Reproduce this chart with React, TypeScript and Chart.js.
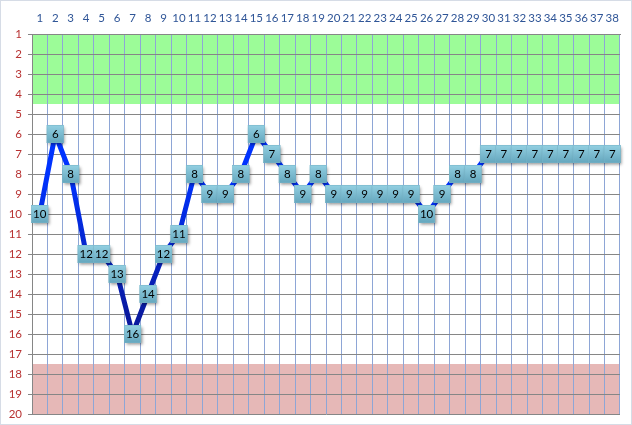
import React, { useEffect, useRef } from 'react';
import { Chart, registerables } from 'chart.js';

Chart.register(...registerables);

const categories = ['1','2','3','4','5','6','7','8','9','10','11','12','13','14','15','16','17','18','19','20','21','22','23','24','25','26','27','28','29','30','31','32','33','34','35','36','37','38'];
const values = [10, 6, 8, 12, 12, 13, 16, 14, 12, 11, 8, 9, 9, 8, 6, 7, 8, 9, 8, 9, 9, 9, 9, 9, 9, 10, 9, 8, 8, 7, 7, 7, 7, 7, 7, 7, 7, 7];
const yMin = 1;
const yMax = 20;
const goodBand = [1, 4.5];
const badBand = [17.5, 20];

const FONT = 'Lato, "Open Sans", sans-serif';

const bandsPlugin = {
  id: 'bands',
  beforeDraw(chart: any) {
    const { ctx, chartArea, scales } = chart;
    ctx.save();
    ctx.fillStyle = '#ffffff';
    ctx.fillRect(0, 0, chart.width, chart.height);
    ctx.strokeStyle = '#d6dce6';
    ctx.lineWidth = 1;
    ctx.strokeRect(0.5, 0.5, chart.width - 1, chart.height - 1);
    const y = scales.y;
    const drawBand = (b: number[], color: string) => {
      const y1 = y.getPixelForValue(b[0]);
      const y2 = y.getPixelForValue(b[1]);
      ctx.fillStyle = color;
      ctx.fillRect(chartArea.left, Math.min(y1, y2), chartArea.right - chartArea.left, Math.abs(y2 - y1));
    };
    drawBand(goodBand, '#9cfc98');
    drawBand(badBand, '#e6b8b7');
    ctx.restore();
  },
};

const labelsPlugin = {
  id: 'boxLabels',
  afterDatasetsDraw(chart: any) {
    const { ctx } = chart;
    const meta = chart.getDatasetMeta(0);
    const data = chart.data.datasets[0].data;
    ctx.save();
    meta.data.forEach((pt: any, i: number) => {
      const x = pt.x;
      const y = pt.y;
      const w = 17;
      const h = 18;
      const l = x - w / 2;
      const t = y - h / 2;
      ctx.save();
      ctx.shadowColor = 'rgba(0,0,0,0.4)';
      ctx.shadowBlur = 3;
      ctx.shadowOffsetX = 1.5;
      ctx.shadowOffsetY = 1.5;
      const g = ctx.createLinearGradient(0, t, 0, t + h);
      g.addColorStop(0, '#93d0e2');
      g.addColorStop(1, '#64a6bd');
      ctx.fillStyle = g;
      ctx.fillRect(l, t, w, h);
      ctx.restore();
      ctx.strokeStyle = 'rgba(120,180,200,0.9)';
      ctx.lineWidth = 0.6;
      ctx.strokeRect(l + 0.3, t + 0.3, w - 0.6, h - 0.6);
      ctx.fillStyle = '#000000';
      ctx.font = `11.5px ${FONT}`;
      ctx.textAlign = 'center';
      ctx.textBaseline = 'middle';
      ctx.fillText(String(data[i]), x, y + 0.5);
    });
    ctx.restore();
  },
};

export default function App() {
  const ref = useRef<HTMLCanvasElement>(null);
  useEffect(() => {
    if (!ref.current) return;
    const chart = new Chart(ref.current, {
      type: 'line',
      data: {
        labels: categories,
        datasets: [
          {
            data: values,
            borderWidth: 5,
            pointRadius: 0,
            pointHoverRadius: 0,
            tension: 0,
            borderColor: (c: any) => {
              const ch = c.chart;
              if (!ch.chartArea || !ch.scales.y) return '#0033ff';
              const ys = ch.scales.y;
              const g = ch.ctx.createLinearGradient(0, ys.getPixelForValue(8), 0, ys.getPixelForValue(15));
              g.addColorStop(0, '#0033ff');
              g.addColorStop(1, '#0a1aa0');
              return g;
            },
          },
        ],
      },
      options: {
        animation: false,
        responsive: true,
        maintainAspectRatio: false,
        layout: { padding: { left: 0, top: 0, right: 12, bottom: 11 } },
        plugins: { legend: { display: false }, tooltip: { enabled: false } },
        scales: {
          x: {
            type: 'category',
            position: 'top',
            offset: true,
            grid: { offset: true, color: '#8ea6d6', drawTicks: false, lineWidth: 1 },
            border: { display: true, color: '#868686' },
            ticks: {
              color: '#2f5597',
              font: { family: FONT, size: 11.5 },
              padding: 9,
              maxRotation: 0,
              autoSkip: false,
            },
            afterFit: (s: any) => {
              s.height = 34;
              s.paddingLeft = 0;
              s.paddingRight = 0;
            },
          },
          y: {
            type: 'linear',
            reverse: true,
            z: -1,
            min: yMin,
            max: yMax,
            grid: { color: '#868686', tickLength: 4, lineWidth: 1 },
            border: { display: true, color: '#868686' },
            ticks: {
              stepSize: 1,
              color: '#b83232',
              font: { family: FONT, size: 11.5 },
              padding: 6,
            },
            afterFit: (s: any) => {
              s.width = 32;
              s.paddingTop = 0;
              s.paddingBottom = 0;
            },
          },
        },
      },
      plugins: [bandsPlugin, labelsPlugin],
    });
    return () => chart.destroy();
  }, []);
  return (
    <div style={{ position: 'fixed', left: 0, top: 0, width: 632, height: 425 }}>
      <canvas ref={ref} />
    </div>
  );
}
